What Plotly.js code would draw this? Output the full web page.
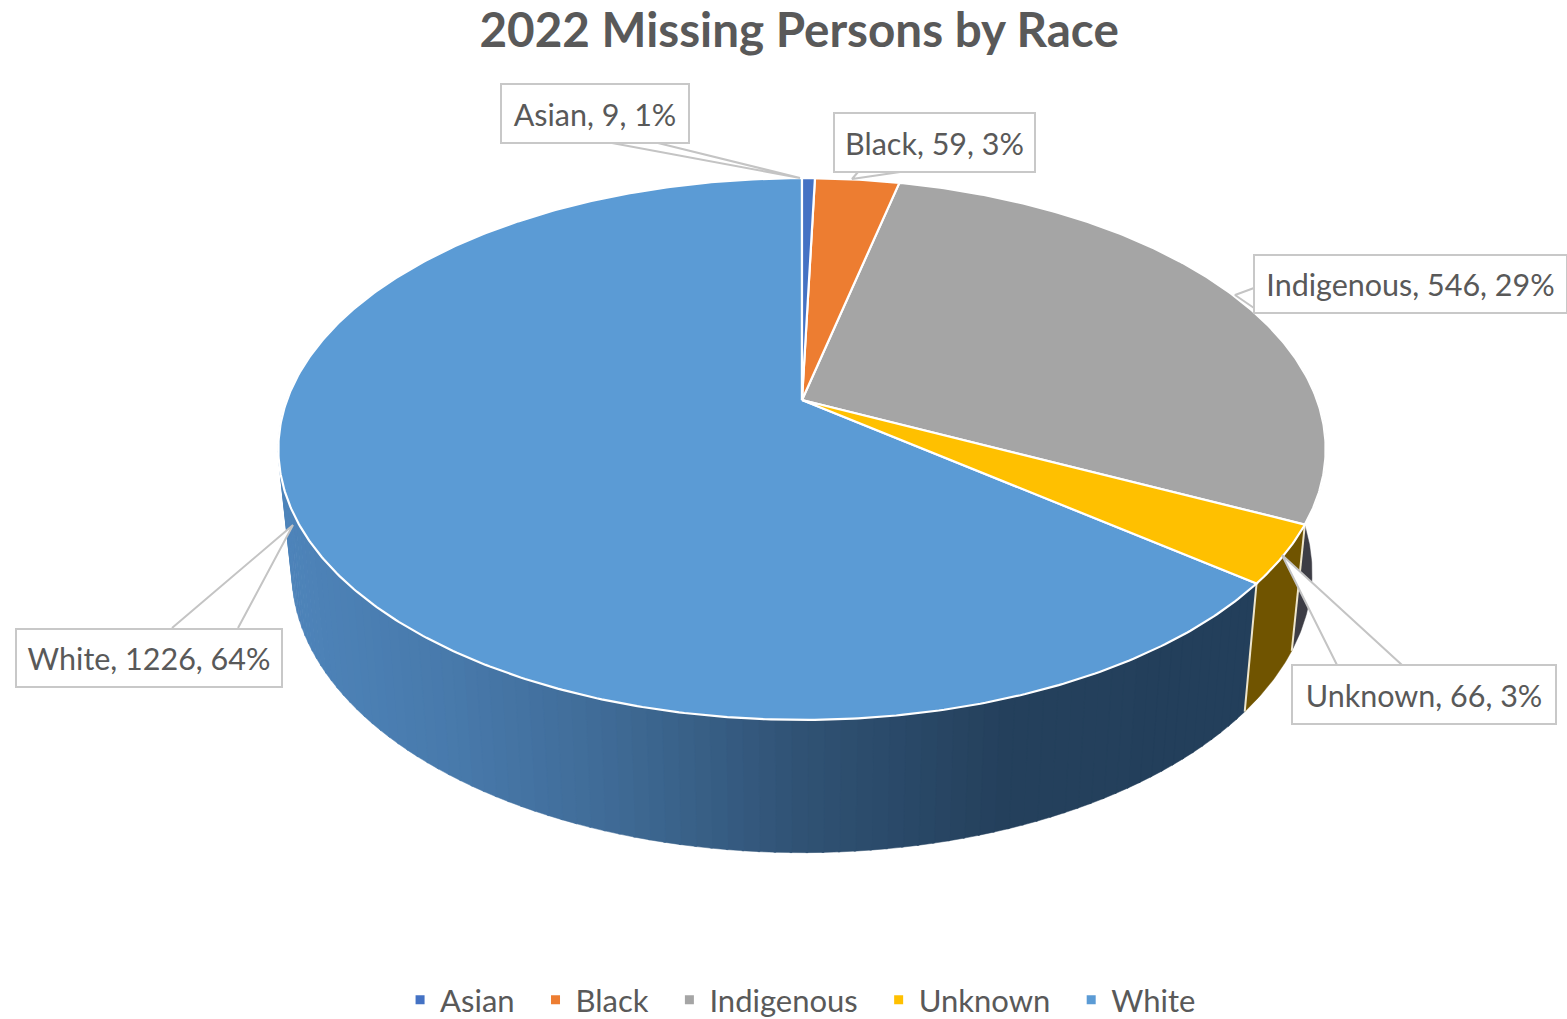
<!DOCTYPE html>
<html>
<head>
<meta charset="utf-8">
<script src="https://cdn.plot.ly/plotly-3.0.1.min.js"></script>
<style>html,body{margin:0;padding:0;background:#fff}#chart{width:1567px;height:1019px}</style>
</head>
<body>
<div id="chart"></div>
<script>
var titleText = '2022 Missing Persons by Race';
var categories = ['Asian', 'Black', 'Indigenous', 'Unknown', 'White'];
var values = [9, 59, 546, 66, 1226];
var percents = [1, 3, 29, 3, 64];
var colors = ['#4472c4', '#ed7d31', '#a5a5a5', '#ffc000', '#5b9bd5'];
var wallColors = ['#26426a', '#8a4a1c', '#3d3d45', '#705400', null];

var labelBoxes = [[501, 84, 188, 59], [834, 113, 201, 59], [1254, 255, 313, 58], [1292, 665, 264, 59], [16, 629, 266, 58]];
var leaders = [
  [[612, 143], [800, 178], [658, 143]],
  [[858, 172], [852, 179], [900, 172]],
  [[1254, 288], [1235, 295], [1254, 308]],
  [[1337, 665], [1282, 555], [1402, 665]],
  [[172, 628], [293, 525], [238, 628]]
];
var wallStops = [[288, [78, 132, 186]], [450, [72, 122, 172]], [600, [64, 108, 152]], [800, [48, 82, 116]], [1000, [36, 64, 92]], [1250, [35, 63, 91]]];

var cx = 802, k = 0.181;
var topFace = { y0: 400, ax: 515, by: 262 };
var bottomFace = { y0: 522, ax: 501.6, by: 270.8 };
function project(theta, face) {
  var u = Math.sin(theta), v = Math.cos(theta), d = 1 + k * v;
  return [cx + face.ax * u / d, face.y0 - face.by * v / d];
}
var total = values.reduce(function (a, b) { return a + b; }, 0);
var edges = [0];
values.forEach(function (v, i) { edges.push(edges[i] + v / total * 2 * Math.PI); });
var rad = Math.PI / 180;

function poly(pts, fill, line, w) {
  return {
    type: 'scatter', mode: 'lines', x: pts.map(function (p) { return p[0]; }), y: pts.map(function (p) { return p[1]; }),
    fill: 'toself', fillcolor: fill, line: { color: line, width: w }, showlegend: false, hoverinfo: 'skip'
  };
}
function arc(a, b, face) {
  var out = [], n = Math.max(2, Math.ceil(Math.abs(b - a) / (0.5 * rad)));
  for (var i = 0; i <= n; i++) out.push(project(a + (b - a) * i / n, face));
  return out;
}
function wallBand(a, b, fill, line, w) {
  var pts = arc(a, b, topFace).concat(arc(b, a, bottomFace));
  pts.push(pts[0]);
  return poly(pts, fill, line, w);
}
function gradientColor(x) {
  for (var i = 1; i < wallStops.length; i++) {
    if (x <= wallStops[i][0]) {
      var p = wallStops[i - 1], q = wallStops[i], t = Math.max(0, (x - p[0]) / (q[0] - p[0]));
      return 'rgb(' + p[1].map(function (c, j) { return Math.round(c + (q[1][j] - c) * t); }).join(',') + ')';
    }
  }
  return 'rgb(' + wallStops[wallStops.length - 1][1].join(',') + ')';
}

var traces = [];
// side wall: the visible rim of Indigenous, Unknown and White
traces.push(wallBand(80 * rad, edges[3], wallColors[2], '#3d3d45', 0.5));
traces.push(wallBand(edges[3], edges[4], wallColors[3], '#705400', 0.5));
var whiteEnd = 300 * rad, step = 1.5 * rad;
for (var a = edges[4]; a < whiteEnd; a += step) {
  var b = Math.min(a + step + 0.2 * rad, whiteEnd);
  var col = gradientColor(project((a + b) / 2, bottomFace)[0]);
  traces.push(wallBand(a, b, col, col, 0.5));
}
// cream seams between the wall pieces
[edges[3], edges[4]].forEach(function (e) {
  var s = [project(e, topFace), project(e, bottomFace)];
  traces.push({ type: 'scatter', mode: 'lines', x: [s[0][0], s[1][0]], y: [s[0][1], s[1][1]], line: { color: '#efe6cc', width: 2 }, showlegend: false, hoverinfo: 'skip' });
});
// top surface slices
[4, 2, 3, 1, 0].forEach(function (i) {
  var pts = [[cx, topFace.y0]].concat(arc(edges[i], edges[i + 1], topFace));
  pts.push([cx, topFace.y0]);
  traces.push(poly(pts, colors[i], '#ffffff', 2.2));
});
// leader callouts
leaders.forEach(function (l) {
  traces.push({
    type: 'scatter', mode: 'lines', x: l.map(function (p) { return p[0]; }), y: l.map(function (p) { return p[1]; }),
    fill: 'toself', fillcolor: '#ffffff', line: { color: '#c4c4c4', width: 2 }, showlegend: false, hoverinfo: 'skip'
  });
});
// legend entries
categories.forEach(function (name, i) {
  traces.push({
    type: 'scatter', mode: 'markers', name: name + '\u00a0\u00a0', x: [-500], y: [-500],
    marker: { symbol: 'square', size: 9, color: colors[i] }, hoverinfo: 'skip'
  });
});

var annotations = categories.map(function (name, i) {
  var r = labelBoxes[i];
  return {
    x: r[0] + r[2] / 2, y: r[1] + r[3] / 2, xref: 'x', yref: 'y', xanchor: 'center', yanchor: 'middle',
    text: name + ', ' + values[i] + ', ' + percents[i] + '%', showarrow: false,
    width: r[2] - 2, height: r[3] - 2, bgcolor: '#ffffff', bordercolor: '#c8c8c8', borderwidth: 2, borderpad: 0,
    font: { family: 'Lato, sans-serif', size: 30.5, color: '#595959' }, align: 'center', valign: 'middle'
  };
});

var layout = {
  width: 1567, height: 1019, margin: { l: 0, r: 0, t: 0, b: 0, autoexpand: false },
  paper_bgcolor: '#ffffff', plot_bgcolor: '#ffffff', showlegend: true, hovermode: false,
  title: { text: titleText, x: 0.51, xanchor: 'center', y: 0.97, yanchor: 'middle', font: { family: 'Lato, sans-serif', size: 47.6, color: '#595959', weight: 'bold' } },
  xaxis: { range: [0, 1567], visible: false, fixedrange: true },
  yaxis: { range: [1019, 0], visible: false, fixedrange: true },
  legend: { orientation: 'h', x: 0.516, xanchor: 'center', y: -0.008, yanchor: 'bottom', font: { family: 'Lato, sans-serif', size: 31, color: '#595959' }, itemwidth: 30, bgcolor: 'rgba(0,0,0,0)' },
  annotations: annotations
};
Plotly.newPlot('chart', traces, layout, { displayModeBar: false, responsive: false });
</script>
</body>
</html>
